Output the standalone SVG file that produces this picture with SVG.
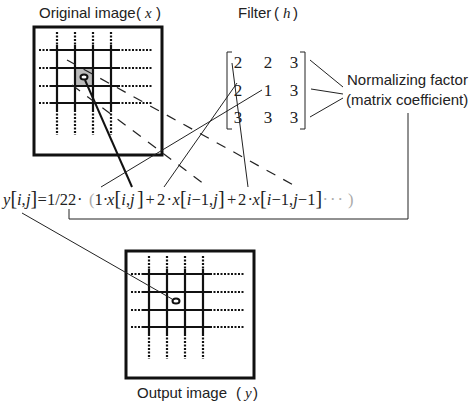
<svg xmlns="http://www.w3.org/2000/svg" width="474" height="405" viewBox="0 0 474 405">
<style>
.lbl{font-family:"Liberation Sans",Arial,sans-serif;font-size:15px;fill:#222}
.it{font-family:"Liberation Serif","Times New Roman",serif;font-style:italic}
.m{font-family:"Liberation Serif","Times New Roman",serif;font-size:17px;fill:#222}
.f{font-family:"Liberation Serif","Times New Roman",serif;font-size:16.5px;fill:#222}
.br{font-size:20px}
.g{fill:#aaa}
.box{fill:#fff;stroke:#111;stroke-width:3}
.sol{stroke:#111;stroke-width:2.2;fill:none}
.dot{stroke:#111;stroke-width:2.2;stroke-dasharray:2 1.5;fill:none}
.thin{stroke:#222;stroke-width:1;fill:none}
.dash{stroke:#222;stroke-width:1.2;stroke-dasharray:10 9;fill:none}
.thick{stroke:#111;stroke-width:2;fill:none}
</style>
<defs>
<g id="grid">
<path class="dot" d="M57 32V45M75 32V45M93 32V45M111 32V45M57 110V135M75 110V135M93 110V135M111 110V135"/>
<path class="sol" d="M57 45V110M75 45V110M93 45V110M111 45V110"/>
<path class="dot" d="M39 50H50M39 68H50M39 86H50M39 103H50M118 50H153M118 68H153M118 86H153M118 103H153"/>
<path class="sol" d="M50 50H118M50 68H118M50 86H118M50 103H118"/>
</g>
</defs>

<g id="original-image">
<rect class="box" x="34" y="27" width="128" height="128"/>
<rect x="76" y="68" width="17" height="18" fill="#bbb"/>
<use href="#grid"/>
<ellipse cx="84" cy="77" rx="3.5" ry="2.6" fill="#fff" stroke="#111" stroke-width="2"/>
<text class="lbl" x="39" y="18">Original image<tspan x="136">(</tspan><tspan class="it" x="145">x</tspan><tspan x="156">)</tspan></text>
</g>

<g id="filter">
<text class="lbl" x="238" y="18">Filter<tspan x="274">(</tspan><tspan class="it" x="283">h</tspan><tspan x="293">)</tspan></text>
<path class="thin" d="M232 52H227V129H232M300 52H305V129H300" stroke-width="1.3"/>
<g class="m" text-anchor="middle">
<text x="238" y="68">2</text><text x="268" y="68">2</text><text x="294" y="68">3</text>
<text x="238" y="96">2</text><text x="268" y="96">1</text><text x="294" y="96">3</text>
<text x="238" y="123">3</text><text x="268" y="123">3</text><text x="294" y="123">3</text>
</g>
</g>

<g id="normalizing-factor">
<text class="lbl" x="347" y="85">Normalizing factor</text>
<text class="lbl" x="346" y="105">(matrix coefficient)</text>
</g>

<g id="formula">
<text class="f" y="205"><tspan class="it" x="3">y</tspan><tspan class="br" x="10.5">[</tspan><tspan class="it" x="17">i</tspan><tspan x="21.5">,</tspan><tspan class="it" x="26">j</tspan><tspan class="br" x="30.5">]</tspan><tspan x="37.5">=</tspan><tspan x="47">1</tspan><tspan x="55.2">/</tspan><tspan x="59.8">2</tspan><tspan x="68">2</tspan><tspan x="77">·</tspan><tspan class="g" x="89">(</tspan><tspan x="94.5">1</tspan><tspan x="102.8">·</tspan><tspan class="it" x="107">x</tspan><tspan class="br" x="114.5">[</tspan><tspan class="it" x="121.3">i</tspan><tspan x="125.9">,</tspan><tspan class="it" x="130">j</tspan><tspan class="br" x="137">]</tspan><tspan x="145.5">+</tspan><tspan x="157">2</tspan><tspan x="166.5">·</tspan><tspan class="it" x="172.5">x</tspan><tspan class="br" x="180">[</tspan><tspan class="it" x="186.8">i</tspan><tspan x="191.4">−</tspan><tspan x="200.8">1</tspan><tspan x="209">,</tspan><tspan class="it" x="213.2">j</tspan><tspan class="br" x="218">]</tspan><tspan x="227">+</tspan><tspan x="238">2</tspan><tspan x="247.5">·</tspan><tspan class="it" x="252.5">x</tspan><tspan class="br" x="260">[</tspan><tspan class="it" x="266.8">i</tspan><tspan x="271.4">−</tspan><tspan x="280.8">1</tspan><tspan x="289">,</tspan><tspan class="it" x="293.2">j</tspan><tspan x="297.8">−</tspan><tspan x="307.2">1</tspan><tspan class="br" x="315.5">]</tspan><tspan class="g" x="322.5">·</tspan><tspan class="g" x="330">·</tspan><tspan class="g" x="337.5">·</tspan><tspan class="g" x="348">)</tspan></text>
</g>

<g id="output-image">
<rect class="box" x="126" y="251" width="128" height="127"/>
<use href="#grid" transform="translate(92 224)"/>
<ellipse cx="176" cy="301" rx="3.5" ry="2.6" fill="#fff" stroke="#111" stroke-width="2"/>
<text class="lbl" x="137" y="398">Output image<tspan x="236">(</tspan><tspan class="it" x="245">y</tspan><tspan x="253">)</tspan></text>
</g>

<g id="connectors">
<path class="thick" d="M85 80L132 187"/>
<path class="dash" d="M67 60L297 187"/>
<path class="dash" d="M72 85L208 187"/>
<path class="thin" d="M232 63L248 187"/>
<path class="thin" d="M237 83L164 187"/>
<path class="thin" d="M262 90L101 187"/>
<path class="thin" d="M310 60L343 87M311 89L343 94M310 117L343 98"/>
<path class="thin" stroke-width="1.5" d="M69 209V219H408V113"/>
<path class="thin" stroke-width="1.5" d="M22 213L172 299"/>
</g>
</svg>
